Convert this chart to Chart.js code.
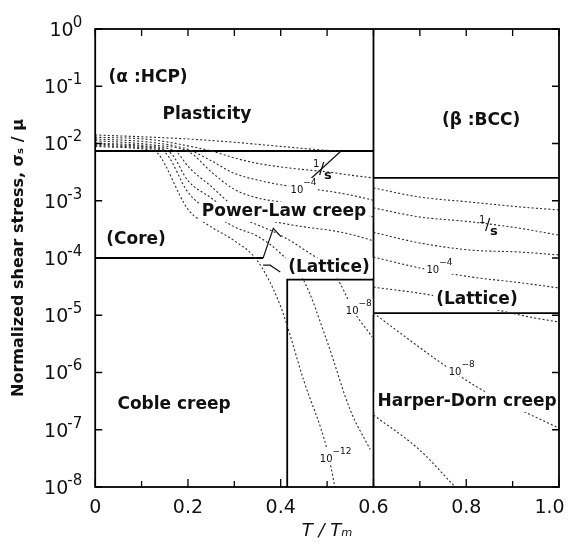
<!DOCTYPE html>
<html>
<head>
<meta charset="utf-8">
<script src="https://cdn.jsdelivr.net/npm/chart.js@4.4.1/dist/chart.umd.min.js"></script>
<style>
  html, body { margin: 0; padding: 0; background: #fff; }
  #wrap { width: 573px; height: 543px; }
</style>
</head>
<body>
<div id="wrap"><canvas id="mechMap" width="573" height="543"></canvas></div>
<script>
// axis ticks
const tempTicks = [0, 0.1, 0.2, 0.3, 0.4, 0.5, 0.6, 0.7, 0.8, 0.9, 1.0];
const stressDecades = [-8, -7, -6, -5, -4, -3, -2, -1, 0];

// HCP (alpha) strain-rate contours: [T/Tm, stress]
const hcp1 = [[0, 1.41e-2], [0.12, 1.29e-2], [0.2, 1.2e-2], [0.3, 1.05e-2], [0.4, 8.9e-3], [0.5, 7.6e-3], [0.53, 7.4e-3]];
const hcp2 = [[0, 1.29e-2], [0.12, 1.17e-2], [0.2, 9.1e-3], [0.25, 7.4e-3], [0.3, 5.6e-3], [0.35, 4.5e-3], [0.4, 3.9e-3], [0.45, 3.5e-3], [0.5, 3.2e-3], [0.55, 2.8e-3], [0.6, 2.5e-3]];
const hcp3 = [[0, 1.2e-2], [0.12, 1.05e-2], [0.2, 7.9e-3], [0.25, 5.0e-3], [0.3, 3.0e-3], [0.35, 2.3e-3], [0.4, 1.9e-3], [0.45, 1.66e-3], [0.5, 1.48e-3], [0.55, 1.26e-3], [0.6, 1.02e-3]];
const hcp4 = [[0, 1.12e-2], [0.12, 9.5e-3], [0.205, 6.9e-3], [0.25, 3.2e-3], [0.3, 1.58e-3], [0.35, 1.12e-3], [0.4, 9.5e-4], [0.45, 8.3e-4], [0.5, 7.4e-4], [0.55, 6.3e-4], [0.6, 5.2e-4]];
const hcp5 = [[0, 1.02e-2], [0.12, 8.9e-3], [0.177, 6.9e-3], [0.2, 4.0e-3], [0.25, 1.78e-3], [0.3, 7.9e-4], [0.35, 5.0e-4], [0.4, 4.1e-4], [0.45, 3.5e-4], [0.5, 3.1e-4], [0.55, 2.6e-4], [0.6, 2.0e-4]];
const hcp6 = [[0, 9.8e-3], [0.12, 8.5e-3], [0.162, 6.9e-3], [0.2, 2.24e-3], [0.25, 1.12e-3], [0.3, 5.6e-4], [0.35, 3.8e-4], [0.4, 2.5e-4], [0.45, 1.41e-4], [0.5, 7.1e-5], [0.528, 3.6e-5], [0.556, 1.23e-5], [0.597, 4.2e-6]];
const hcp7 = [[0, 9.3e-3], [0.12, 8.1e-3], [0.151, 6.9e-3], [0.2, 1.41e-3], [0.25, 6.3e-4], [0.3, 3.5e-4], [0.35, 2.4e-4], [0.4, 1.2e-4], [0.45, 4.0e-5], [0.5, 3.5e-6], [0.55, 2.2e-7], [0.593, 4.5e-8]];
const hcp8 = [[0, 8.9e-3], [0.12, 7.6e-3], [0.134, 6.9e-3], [0.2, 7.1e-4], [0.25, 3.5e-4], [0.3, 2.0e-4], [0.35, 8.9e-5], [0.4, 1.41e-5], [0.45, 7.1e-7], [0.5, 4.5e-8], [0.517, 1e-8]];

// BCC (beta) strain-rate contours
const bcc1 = [[0.6, 1.67e-3], [0.7, 1.16e-3], [0.808, 9.5e-4], [0.916, 7.8e-4], [1.0, 6.9e-4]];
const bcc2 = [[0.6, 7.5e-4], [0.7, 5.2e-4], [0.808, 4.3e-4], [0.916, 3.3e-4], [1.0, 2.5e-4]];
const bcc3 = [[0.6, 2.8e-4], [0.7, 1.83e-4], [0.808, 1.38e-4], [0.916, 1.27e-4], [1.0, 1.13e-4]];
const bcc4 = [[0.6, 1.04e-4], [0.7, 6.7e-5], [0.808, 4.7e-5], [0.916, 3.7e-5], [1.0, 3.0e-5]];
const bcc5 = [[0.6, 3.1e-5], [0.722, 2.26e-5], [0.9375, 9.3e-6], [1.0, 7.6e-6]];
const bcc6 = [[0.6, 1.09e-5], [0.737, 1.65e-6], [0.823, 5.6e-7], [0.931, 1.96e-7], [1.0, 1.07e-7]];
const bcc7 = [[0.6, 1.81e-7], [0.7, 4.4e-8], [0.776, 1e-8]];

// field boundaries
const hcpPlasticity = [[0, 7.4e-3], [0.6, 7.4e-3]];
const bccPlasticity = [[0.6, 2.5e-3], [1.0, 2.5e-3]];
const coreBoundary = [[0, 1e-4], [0.362, 1e-4]];
const hcpLatticeBox = [[0.414, 1e-8], [0.414, 4.2e-5], [0.6, 4.2e-5]];
const bccLattice = [[0.6, 1.09e-5], [1.0, 1.09e-5]];
const transus = [[0.6, 1e-8], [0.6, 1]];
const rateLeader = [[0.443, 1.67e-3], [0.53, 7.4e-3]];
const coreLeader = [[0.362, 1e-4], [0.384, 3.3e-4], [0.401, 2.33e-4]];
const latticeLeader = [[0.362, 7.5e-5], [0.377, 7.5e-5], [0.399, 5.7e-5]];

const contours = [hcp1, hcp2, hcp3, hcp4, hcp5, hcp6, hcp7, hcp8, bcc1, bcc2, bcc3, bcc4, bcc5, bcc6, bcc7];
const boundaries = [hcpPlasticity, bccPlasticity, coreBoundary, hcpLatticeBox, bccLattice, transus];
const leaders = [rateLeader, coreLeader, latticeLeader];

// field names: text, T/Tm, stress, white backing
const fieldNames = [
  ['(\u03B1 :HCP)', 0.114, 0.14, false],
  ['Plasticity', 0.241, 3.15e-2, false],
  ['(\u03B2 :BCC)', 0.832, 2.47e-2, false],
  ['Power-Law creep', 0.407, 6.4e-4, true],
  ['(Core)', 0.088, 2.06e-4, false],
  ['(Lattice)', 0.504, 6.7e-5, true],
  ['(Lattice)', 0.823, 1.85e-5, true],
  ['Coble creep', 0.170, 2.7e-7, false],
  ['Harper-Dorn creep', 0.802, 3.05e-7, true]
];
// contour rate labels: exponent, T/Tm, stress
const rateNames = [[-4, 0.435, 1.74e-3], [-4, 0.728, 6.97e-5], [-8, 0.554, 1.34e-5], [-8, 0.776, 1.15e-6], [-12, 0.498, 3.48e-8]];
const perSecond = [[0.489, 3.44e-3], [0.847, 3.62e-4]];

const toXY = pts => pts.map(([t, s]) => ({x: t, y: s}));

const datasets = [];
contours.forEach(c => datasets.push({
    data: toXY(c), borderColor: '#2a2a2a', borderWidth: 1.1, borderDash: [2, 2.2],
    pointRadius: 0, cubicInterpolationMode: 'monotone', fill: false
}));
boundaries.forEach(b => datasets.push({
    data: toXY(b), borderColor: '#000', borderWidth: 1.8, pointRadius: 0, tension: 0, fill: false
}));
leaders.forEach(l => datasets.push({
    data: toXY(l), borderColor: '#111', borderWidth: 1.2, pointRadius: 0, tension: 0, fill: false
}));

const FONT = '"DejaVu Sans", sans-serif';

const mapLabels = {
    id: 'mapLabels',
    afterDatasetsDraw(chart) {
        const {ctx, scales: {x, y}} = chart;
        ctx.save();
        ctx.textBaseline = 'middle';
        ctx.textAlign = 'center';
        ctx.font = 'bold 17px ' + FONT;
        fieldNames.forEach(([text, t, s, bg]) => {
            const px = x.getPixelForValue(t), py = y.getPixelForValue(s);
            if (bg) {
                const w = ctx.measureText(text).width;
                ctx.fillStyle = '#fff';
                ctx.fillRect(px - w / 2 - 3, py - 10, w + 6, 20);
            }
            ctx.fillStyle = '#111';
            ctx.fillText(text, px, py);
        });
        // small 10^-n labels on the contours
        ctx.textAlign = 'left';
        rateNames.forEach(([n, t, s]) => {
            const px = x.getPixelForValue(t), py = y.getPixelForValue(s);
            ctx.font = '10px ' + FONT;
            const w = ctx.measureText('10').width;
            ctx.fillStyle = '#fff';
            ctx.fillRect(px - w / 2 - 2, py - 9, w + 16, 16);
            ctx.fillStyle = '#111';
            ctx.fillText('10', px - w / 2, py + 3);
            ctx.font = '9px ' + FONT;
            ctx.fillText('\u2212' + (-n), px + w / 2, py - 4);
        });
        // 1/s labels
        perSecond.forEach(([t, s]) => {
            const px = x.getPixelForValue(t), py = y.getPixelForValue(s);
            ctx.font = '10px ' + FONT;
            ctx.fillText('1', px - 9, py - 6);
            ctx.font = '16px ' + FONT;
            ctx.fillText('/', px - 3, py);
            ctx.font = 'bold 13px ' + FONT;
            ctx.fillText('s', px + 2, py + 6);
        });
        ctx.restore();
    }
};

const frame = {
    id: 'frame',
    afterDraw(chart) {
        const {ctx, chartArea: a, scales: {x, y}} = chart;
        ctx.save();
        ctx.strokeStyle = '#000';
        ctx.lineWidth = 1.8;
        ctx.strokeRect(a.left, a.top, a.right - a.left, a.bottom - a.top);
        ctx.lineWidth = 1.3;
        ctx.beginPath();
        x.ticks.forEach(tk => {
            const px = x.getPixelForValue(tk.value);
            const len = Math.round(tk.value * 10) % 2 === 0 ? 8 : 6;
            ctx.moveTo(px, a.bottom); ctx.lineTo(px, a.bottom - len);
            ctx.moveTo(px, a.top); ctx.lineTo(px, a.top + 7);
        });
        y.ticks.forEach(tk => {
            const py = y.getPixelForValue(tk.value);
            ctx.moveTo(a.left, py); ctx.lineTo(a.left + 7, py);
            ctx.moveTo(a.right, py); ctx.lineTo(a.right - 7, py);
        });
        ctx.stroke();
        // decade labels 10^n
        ctx.fillStyle = '#111';
        ctx.textBaseline = 'middle';
        ctx.textAlign = 'right';
        y.ticks.forEach(tk => {
            const n = Math.round(Math.log10(tk.value));
            const py = y.getPixelForValue(tk.value);
            const exp = n === 0 ? '0' : '-' + (-n);
            ctx.font = '15px ' + FONT;
            const we = ctx.measureText(exp).width;
            const right = a.left - 13;
            ctx.fillText(exp, right, py - 6);
            ctx.font = '19px ' + FONT;
            ctx.fillText('10', right - we + 1, py + 2);
        });
        ctx.restore();
    }
};

new Chart(document.getElementById('mechMap').getContext('2d'), {
    type: 'line',
    data: {datasets: datasets},
    options: {
        responsive: false,
        animation: false,
        layout: {padding: {top: 29, right: 14, bottom: 0, left: 0}},
        plugins: {legend: {display: false}, tooltip: {enabled: false}},
        scales: {
            x: {
                type: 'linear', min: 0, max: 1,
                afterBuildTicks: s => { s.ticks = tempTicks.map(v => ({value: v})); },
                afterFit: s => { s.height = 56; s.paddingRight = 0; s.paddingLeft = 0; },
                grid: {display: false, drawTicks: false},
                border: {display: false},
                ticks: {
                    color: '#111', padding: 10, maxRotation: 0, autoSkip: false,
                    font: {family: FONT, size: 19},
                    callback: v => {
                        const k = Math.round(v * 10);
                        if (k % 2) return '';
                        if (k === 0) return '0';
                        // last label sits a little inside the frame, as in the original
                        return k === 10 ? '1.0\u2003' : v.toFixed(1);
                    }
                },
                title: {
                    display: true, text: 'T / T\u2098', color: '#111',
                    font: {family: FONT, size: 18, style: 'italic'},
                    padding: {top: 0, bottom: 1}
                }
            },
            y: {
                type: 'logarithmic', min: 1e-8, max: 1,
                afterBuildTicks: s => { s.ticks = stressDecades.map(n => ({value: Math.pow(10, n)})); },
                grid: {display: false, drawTicks: false},
                border: {display: false},
                ticks: {display: false},
                title: {
                    display: true, text: 'Normalized shear stress, \u03C3\u209B / \u03BC', color: '#111',
                    font: {family: FONT, size: 16, weight: 'bold'},
                    padding: {top: 9, bottom: 67}
                }
            }
        }
    },
    plugins: [mapLabels, frame]
});
</script>
</body>
</html>
